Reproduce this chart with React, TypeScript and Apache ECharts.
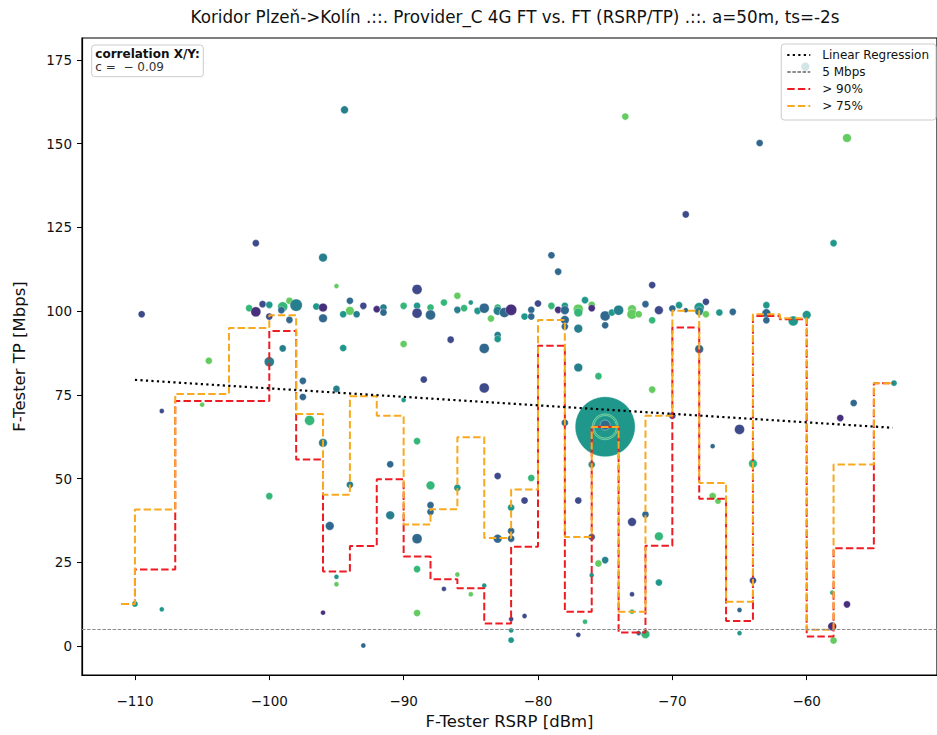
import React, { useEffect, useRef } from 'react';
import * as echarts from 'echarts';

// ---------- data ----------
const titleText = 'Koridor Plzeň->Kolín .::. Provider_C 4G FT vs. FT (RSRP/TP) .::. a=50m, ts=-2s';
const xAxisName = 'F-Tester RSRP [dBm]';
const yAxisName = 'F-Tester TP [Mbps]';
const xTicks = [-110, -100, -90, -80, -70, -60];
const yTicks = [0, 25, 50, 75, 100, 125, 150, 175];

// percentile step lines (post-step bins)
const binEdges = [-111, -110, -107, -103, -100, -98, -96, -94, -92, -90, -88, -86, -84, -82, -80, -78, -76, -74, -72, -70, -68, -66, -64, -62, -60, -58, -55, -53.5];
const tp90 = [12.6, 22.9, 73.2, 73.2, 94.1, 55.7, 22.3, 29.9, 49.8, 26.8, 20.0, 17.3, 6.8, 29.7, 89.7, 10.3, 65.5, 4.1, 30.0, 95.1, 44.0, 7.5, 98.6, 97.6, 2.9, 29.2, 78.5, 78.5];
const tp75 = [12.6, 40.8, 75.3, 95.0, 98.8, 69.3, 45.2, 74.6, 68.8, 36.3, 40.9, 62.4, 32.3, 46.8, 97.4, 32.6, 65.4, 10.3, 68.8, 100.1, 48.7, 13.3, 99.1, 97.9, 4.9, 54.2, 78.5, 78.5];

const regressionX = [-110, -53.6];
const regressionY = [79.5, 65.2];
const thresholdMbps = 5;
const correlation = -0.09;

// [RSRP dBm, TP Mbps, hue class (0..6), sample weight]
const measurements: number[][] = [
  [-75.0, 65.5, 4, 144], [-75.0, 65.5, 5, 27], [-75.0, 65.5, 4, 20], [-75.0, 66.0, 2, 4],
  [-109.5, 99.1, 1, 2], [-101.0, 120.3, 1, 2], [-96.0, 116.0, 3, 3], [-95.0, 107.5, 6, 1],
  [-101.5, 100.9, 5, 2], [-101.0, 99.8, 0, 4], [-100.5, 102.1, 1, 2], [-100.0, 101.9, 4, 2],
  [-100.0, 98.4, 1, 2], [-99.0, 101.3, 5, 4], [-99.1, 100.3, 2, 2], [-98.5, 103.1, 6, 2],
  [-98.0, 101.8, 3, 6], [-98.5, 97.4, 2, 2], [-99.0, 88.9, 3, 2], [-100.0, 84.9, 3, 4],
  [-104.5, 85.2, 6, 2], [-108.0, 70.2, 1, 1], [-105.0, 72.1, 6, 1], [-96.5, 101.4, 4, 2],
  [-96.0, 101.1, 0, 3], [-96.0, 97.9, 2, 3], [-94.0, 103.1, 2, 2], [-94.0, 100.1, 6, 3],
  [-94.5, 99.1, 4, 2], [-93.5, 99.1, 3, 2], [-93.0, 101.6, 1, 2], [-92.0, 100.6, 0, 2],
  [-94.5, 89.0, 4, 2], [-97.5, 79.2, 2, 2], [-97.5, 74.4, 2, 2], [-95.0, 76.8, 3, 2],
  [-97.0, 67.4, 5, 4], [-96.0, 60.7, 3, 3], [-100.0, 44.8, 5, 2], [-94.0, 48.2, 3, 2],
  [-95.5, 35.9, 2, 3], [-95.0, 20.7, 4, 1], [-95.0, 18.5, 6, 1], [-96.0, 10.0, 0, 1],
  [-93.0, 0.2, 2, 1], [-110.0, 12.6, 4, 1.5], [-108.0, 11.0, 4, 1],
  [-79.0, 116.7, 2, 2], [-78.5, 111.8, 2, 2], [-89.0, 106.5, 1, 4], [-91.5, 101.1, 3, 2],
  [-91.5, 99.6, 2, 2], [-90.0, 101.6, 5, 2], [-89.0, 101.6, 4, 2], [-89.0, 99.4, 1, 4],
  [-88.0, 101.1, 5, 2], [-88.0, 98.9, 2, 4], [-87.0, 102.6, 5, 2], [-86.0, 104.6, 6, 2],
  [-86.0, 100.4, 3, 2], [-85.5, 100.9, 5, 2], [-85.0, 102.6, 4, 1], [-84.5, 100.1, 4, 2],
  [-84.0, 100.9, 2, 4], [-83.5, 97.8, 6, 2], [-83.0, 101.1, 5, 2], [-83.0, 100.1, 3, 3],
  [-82.5, 99.6, 2, 4], [-82.0, 100.4, 0, 5], [-81.0, 98.4, 4, 2], [-80.5, 100.4, 2, 2],
  [-80.5, 98.4, 2, 2], [-80.0, 102.3, 1, 2], [-79.0, 101.6, 5, 2], [-78.5, 100.4, 0, 2],
  [-78.0, 101.6, 4, 2], [-78.0, 100.3, 2, 3], [-78.0, 97.4, 2, 3], [-78.0, 95.4, 2, 2],
  [-77.0, 100.6, 6, 4], [-77.0, 99.6, 5, 3], [-76.5, 103.3, 4, 2], [-76.0, 101.9, 6, 2],
  [-76.0, 100.9, 0, 2], [-77.0, 94.8, 3, 3], [-75.0, 98.6, 2, 4], [-75.0, 95.8, 2, 2],
  [-74.5, 99.6, 4, 2], [-74.0, 100.3, 3, 4], [-73.0, 100.6, 6, 3], [-73.0, 99.1, 6, 4],
  [-72.5, 99.1, 6, 2], [-72.0, 102.1, 2, 2], [-71.5, 107.8, 1, 2], [-71.5, 97.3, 5, 2],
  [-71.0, 100.3, 1, 3], [-90.0, 90.2, 6, 2], [-86.5, 91.5, 1, 2], [-83.0, 92.9, 3, 2],
  [-83.0, 91.7, 4, 2], [-84.0, 88.9, 2, 4], [-88.5, 79.6, 1, 2], [-84.0, 77.1, 1, 4],
  [-90.0, 73.5, 4, 1], [-89.0, 61.2, 5, 2], [-77.0, 83.2, 3, 3], [-75.5, 80.6, 5, 2],
  [-71.5, 76.6, 6, 2], [-78.0, 66.7, 2, 2],
  [-91.0, 54.3, 2, 2], [-91.0, 39.1, 3, 3], [-89.0, 32.1, 2, 4], [-89.0, 23.0, 5, 2],
  [-89.0, 9.9, 6, 2], [-88.0, 48.0, 5, 3], [-88.0, 42.1, 2, 2], [-88.0, 40.1, 2, 2],
  [-87.0, 17.1, 1, 1], [-86.0, 47.3, 4, 2], [-86.0, 21.4, 6, 1], [-85.0, 15.5, 6, 1],
  [-84.0, 18.1, 4, 1], [-83.0, 50.8, 1, 2], [-83.0, 32.1, 2, 3], [-82.0, 32.1, 2, 2],
  [-82.0, 34.4, 2, 2], [-82.0, 41.4, 4, 2], [-82.0, 8.1, 1, 1], [-82.0, 4.7, 4, 1],
  [-82.0, 1.8, 4, 1.5], [-81.0, 43.5, 1, 2], [-81.0, 9.0, 1, 1], [-80.5, 50.2, 5, 2],
  [-77.0, 43.5, 1, 2], [-76.0, 54.2, 4, 2], [-76.0, 32.6, 2, 2], [-76.0, 21.2, 4, 1],
  [-76.5, 7.3, 5, 1], [-77.0, 3.4, 1, 1], [-75.5, 24.7, 6, 2], [-75.0, 25.7, 3, 2],
  [-73.0, 37.1, 1, 3], [-73.0, 15.5, 1, 1], [-73.0, 10.3, 5, 1], [-72.5, 3.9, 2, 1],
  [-72.0, 3.6, 5, 3], [-72.0, 39.3, 2, 2], [-71.0, 32.8, 5, 3], [-71.0, 19.0, 4, 2],
  [-67.0, 59.7, 2, 1], [-64.0, 54.5, 5, 3], [-67.0, 44.8, 6, 2], [-66.6, 43.3, 6, 1.5],
  [-65.0, 10.8, 2, 1], [-65.0, 3.9, 4, 1], [-64.0, 19.6, 1, 2], [-58.1, 16.0, 5, 1],
  [-58.1, 5.9, 0, 3], [-58.0, 1.7, 6, 2], [-57.0, 12.5, 0, 2],
  [-70.0, 100.8, 2, 2], [-69.5, 101.8, 4, 2], [-69.0, 100.3, 2, 1], [-68.0, 101.1, 4, 4],
  [-68.0, 100.0, 3, 3], [-67.5, 102.8, 1, 2], [-67.5, 99.1, 6, 2], [-66.5, 99.6, 4, 2],
  [-65.5, 99.8, 2, 2], [-68.0, 88.7, 2, 3], [-70.0, 68.8, 1, 2], [-65.0, 64.7, 1, 4],
  [-63.0, 101.8, 4, 2], [-63.0, 99.4, 2, 3], [-63.0, 97.3, 2, 2], [-61.0, 97.1, 4, 4],
  [-60.0, 98.9, 4, 3], [-56.5, 72.6, 2, 2], [-57.5, 68.1, 0, 2], [-53.5, 78.5, 4, 1.5],
  [-94.4, 160.1, 3, 2.5], [-73.5, 158.1, 6, 2], [-63.5, 150.2, 2, 2], [-57.0, 151.7, 6, 3],
  [-69.0, 128.9, 1, 2], [-58.0, 120.3, 4, 2], [-60.1, 173.0, 3, 3],
];

// ---------- styles ----------
const huePalette = ['#472f7d', '#3e4a89', '#31688e', '#277f8e', '#1f988b', '#35b779', '#63cb5f'];
const FONT = 'DejaVu Sans';

const minusFmt = (v: number) => String(v).replace('-', '\u2212');

export default function App() {
  const ref = useRef<HTMLDivElement>(null);

  useEffect(() => {
    const el = ref.current;
    if (!el) return;
    const chart = echarts.init(el, null, { renderer: 'svg' });

    const stepData = (vals: number[]) => binEdges.map((e, i) => [e, vals[i]]);

    const option: any = {
      animation: false,
      backgroundColor: '#ffffff',
      textStyle: { fontFamily: FONT },
      grid: {
        left: 82, right: -1, top: 38, bottom: 58,
        show: true, borderColor: '#000', borderWidth: 1.2,
        containLabel: false,
      },
      xAxis: {
        type: 'value',
        min: -113.94,
        max: -50.3,
        name: xAxisName,
        nameLocation: 'middle',
        nameGap: 37,
        nameTextStyle: { fontFamily: FONT, fontSize: 16.5, color: '#111' },
        splitLine: { show: false },
        axisLine: { show: true, onZero: false, lineStyle: { color: '#000', width: 1.2 } },
        axisTick: { show: true, customValues: xTicks, length: 5, lineStyle: { color: '#000', width: 1 } },
        axisLabel: {
          show: true, customValues: xTicks, formatter: minusFmt,
          fontFamily: FONT, fontSize: 13.5, color: '#111', margin: 19,
        },
      },
      yAxis: {
        type: 'value',
        min: -8.63,
        max: 181.55,
        name: yAxisName,
        nameLocation: 'middle',
        nameGap: 54,
        nameTextStyle: { fontFamily: FONT, fontSize: 16.5, color: '#111' },
        splitLine: { show: false },
        axisLine: { show: true, onZero: false, lineStyle: { color: '#000', width: 1.2 } },
        axisTick: { show: true, customValues: yTicks, length: 5, lineStyle: { color: '#000', width: 1 } },
        axisLabel: {
          show: true, customValues: yTicks, formatter: minusFmt,
          fontFamily: FONT, fontSize: 13.5, color: '#111', margin: 10,
        },
      },
      legend: {
        data: ['Linear Regression', '5 Mbps', '> 90%', '> 75%'],
        orient: 'vertical',
        right: 1,
        top: 44,
        padding: [5, 7, 8, 5],
        itemWidth: 23,
        itemHeight: 13,
        itemGap: 5,
        backgroundColor: 'rgba(255,255,255,0.8)',
        borderColor: '#cccccc',
        borderWidth: 1,
        borderRadius: 3,
        z: 10,
        itemStyle: { opacity: 0 },
        textStyle: { fontFamily: FONT, fontSize: 12, color: '#111', padding: [0, 0, 0, 7] },
      },
      graphic: [
        {
          type: 'text', x: 515, y: 17, z: 10,
          style: { text: titleText, fontFamily: FONT, fontSize: 16.8, fill: '#111', textAlign: 'center', textVerticalAlign: 'middle' },
        },
        {
          type: 'rect', shape: { x: 91.7, y: 45, width: 111.6, height: 31.7, r: 3 }, z: 10,
          style: { fill: 'rgba(255,255,255,0.8)', stroke: '#cccccc', lineWidth: 1 },
        },
        {
          type: 'text', x: 95.3, y: 54, z: 11,
          style: { text: 'correlation X/Y:', fontFamily: FONT, fontSize: 12, fontWeight: 'bold', fill: '#111', textVerticalAlign: 'middle' },
        },
        {
          type: 'text', x: 95.3, y: 67, z: 11,
          style: { text: 'c =  ' + minusFmt(correlation).replace('\u2212', '\u2212 '), fontFamily: FONT, fontSize: 12, fill: '#333', textVerticalAlign: 'middle' },
        },
      ],
      series: [
        {
          name: 'samples',
          type: 'scatter',
          z: 1,
          data: measurements.map((m) => [m[0], m[1], m[2], m[3]]),
          symbol: 'circle',
          symbolSize: (v: number[]) => 5 * Math.sqrt(v[3]),
          itemStyle: {
            color: (p: any) => huePalette[p.data[2]],
            borderColor: 'rgba(255,255,255,0.7)',
            borderWidth: 0.5,
            opacity: 1,
          },
          emphasis: { disabled: true },
        },
        {
          name: '5 Mbps',
          type: 'line',
          data: [],
          symbol: 'none',
          lineStyle: { color: '#8c8c8c', width: 1, type: [3.5, 1.6] },
          itemStyle: { color: '#8c8c8c' },
          markLine: {
            silent: true,
            symbol: 'none',
            label: { show: false },
            lineStyle: { color: '#8c8c8c', width: 1, type: [3.5, 1.6] },
            data: [{ yAxis: thresholdMbps }],
          },
        },
        {
          name: '> 90%',
          type: 'line',
          step: 'end',
          data: stepData(tp90),
          symbol: 'none',
          lineStyle: { color: '#ee1c22', width: 2, type: [7.4, 3.2] },
          itemStyle: { color: '#ee1c22' },
        },
        {
          name: '> 75%',
          type: 'line',
          step: 'end',
          data: stepData(tp75),
          symbol: 'none',
          lineStyle: { color: '#f8a91f', width: 2, type: [7.4, 3.2] },
          itemStyle: { color: '#f8a91f' },
        },
        {
          name: 'Linear Regression',
          type: 'line',
          data: regressionX.map((x, i) => [x, regressionY[i]]),
          symbol: 'none',
          lineStyle: { color: '#000', width: 2.2, type: [2.2, 3.3] },
          itemStyle: { color: '#000' },
        },
      ],
    };

    chart.setOption(option);
    return () => chart.dispose();
  }, []);

  return (
    <div
      ref={ref}
      style={{ position: 'fixed', left: 0, top: 0, width: 937, height: 735, background: '#fff' }}
    />
  );
}
